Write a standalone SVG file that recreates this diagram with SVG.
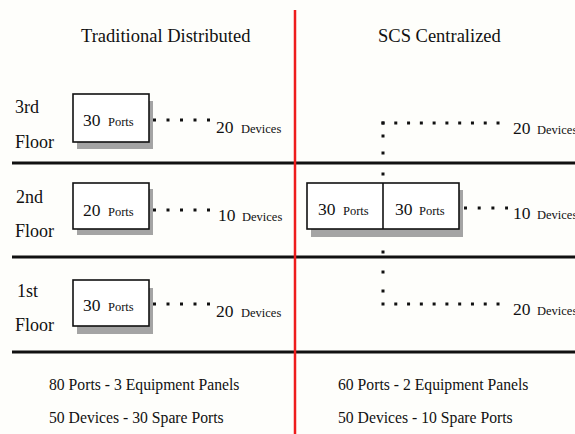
<svg xmlns="http://www.w3.org/2000/svg" width="575" height="434" viewBox="0 0 575 434">
<style>
text{font-family:"Liberation Serif","Times New Roman",serif;fill:#111}
.title{font-size:18.5px}
.floor{font-size:18px}
.num{font-size:17.5px}
.sm{font-size:12.5px}
.sum{font-size:15.7px}
.box{fill:#fff;stroke:#111;stroke-width:1.6}
.shadow{fill:#a4a4a4}
.rule{stroke:#111;stroke-width:3}
.dots{fill:none;stroke:#111;stroke-width:3}
</style>
<rect width="575" height="434" fill="#fefefb"/>
<g id="frame">
<line class="rule" x1="12" y1="163" x2="575" y2="163"/>
<line class="rule" x1="12" y1="257" x2="575" y2="257"/>
<line class="rule" x1="12" y1="352" x2="575" y2="352"/>
<line x1="295" y1="10" x2="295" y2="434" stroke="#ee1c1c" stroke-width="2.5"/>
</g>
<g id="titles">
<text class="title" x="81" y="42">Traditional Distributed</text>
<text class="title" x="378" y="42">SCS Centralized</text>
</g>
<g id="floor-labels">
<text class="floor" x="15" y="113">3rd</text>
<text class="floor" x="15" y="148">Floor</text>
<text class="floor" x="16" y="203">2nd</text>
<text class="floor" x="15" y="237">Floor</text>
<text class="floor" x="17" y="297">1st</text>
<text class="floor" x="15" y="331">Floor</text>
</g>
<g id="connectors">
<path class="dots" d="M153 120H211" stroke-dasharray="3 10.5"/>
<path class="dots" d="M153 210H211" stroke-dasharray="3 10.5"/>
<path class="dots" d="M153 304H211" stroke-dasharray="3 10.5"/>
<path class="dots" d="M381.5 123H500" stroke-dasharray="3 9.78"/>
<path class="dots" d="M381.5 304H500" stroke-dasharray="3 9.78"/>
<path class="dots" d="M464 208H508" stroke-dasharray="3 10.7"/>
<path class="dots" d="M383 121.5v3M383 134.5v3M383 151.5v3M383 172.5v3M383 250.5v3M383 270.5v3M383 289.5v3"/>
</g>
<g id="tr3-panel">
<rect class="shadow" x="77" y="101" width="76" height="48"/>
<rect class="box" x="73" y="94" width="76" height="48"/>
<text class="num" x="83" y="126">30</text><text class="sm" x="108" y="126">Ports</text>
</g>
<g id="tr3-devices">
<text class="num" x="216" y="133">20</text><text class="sm" x="241" y="133">Devices</text>
</g>
<g id="tr2-panel">
<rect class="shadow" x="77" y="189" width="76" height="46"/>
<rect class="box" x="73" y="183" width="76" height="46"/>
<text class="num" x="83" y="216">20</text><text class="sm" x="108" y="216">Ports</text>
</g>
<g id="tr2-devices">
<text class="num" x="218" y="221">10</text><text class="sm" x="242" y="221">Devices</text>
</g>
<g id="tr1-panel">
<rect class="shadow" x="77" y="288" width="76" height="46"/>
<rect class="box" x="73" y="280" width="76" height="46"/>
<text class="num" x="83" y="311">30</text><text class="sm" x="108" y="311">Ports</text>
</g>
<g id="tr1-devices">
<text class="num" x="216" y="317">20</text><text class="sm" x="241" y="317">Devices</text>
</g>
<g id="scs-panel">
<rect class="shadow" x="311" y="190" width="152" height="47"/>
<rect class="box" x="307" y="183" width="152" height="46"/>
<line x1="383" y1="183" x2="383" y2="229" stroke="#111" stroke-width="1.6"/>
<text class="num" x="318" y="215">30</text><text class="sm" x="343" y="215">Ports</text>
<text class="num" x="395" y="215">30</text><text class="sm" x="419" y="215">Ports</text>
</g>
<g id="scs3-devices">
<text class="num" x="513" y="134">20</text><text class="sm" x="537" y="134">Devices</text>
</g>
<g id="scs2-devices">
<text class="num" x="513" y="219">10</text><text class="sm" x="537" y="219">Devices</text>
</g>
<g id="scs1-devices">
<text class="num" x="513" y="315">20</text><text class="sm" x="537" y="315">Devices</text>
</g>
<g id="summary">
<text class="sum" x="49" y="390">80 Ports - 3 Equipment Panels</text>
<text class="sum" x="49" y="423">50 Devices - 30 Spare Ports</text>
<text class="sum" x="338" y="390">60 Ports - 2 Equipment Panels</text>
<text class="sum" x="338" y="423">50 Devices - 10 Spare Ports</text>
</g>
</svg>
